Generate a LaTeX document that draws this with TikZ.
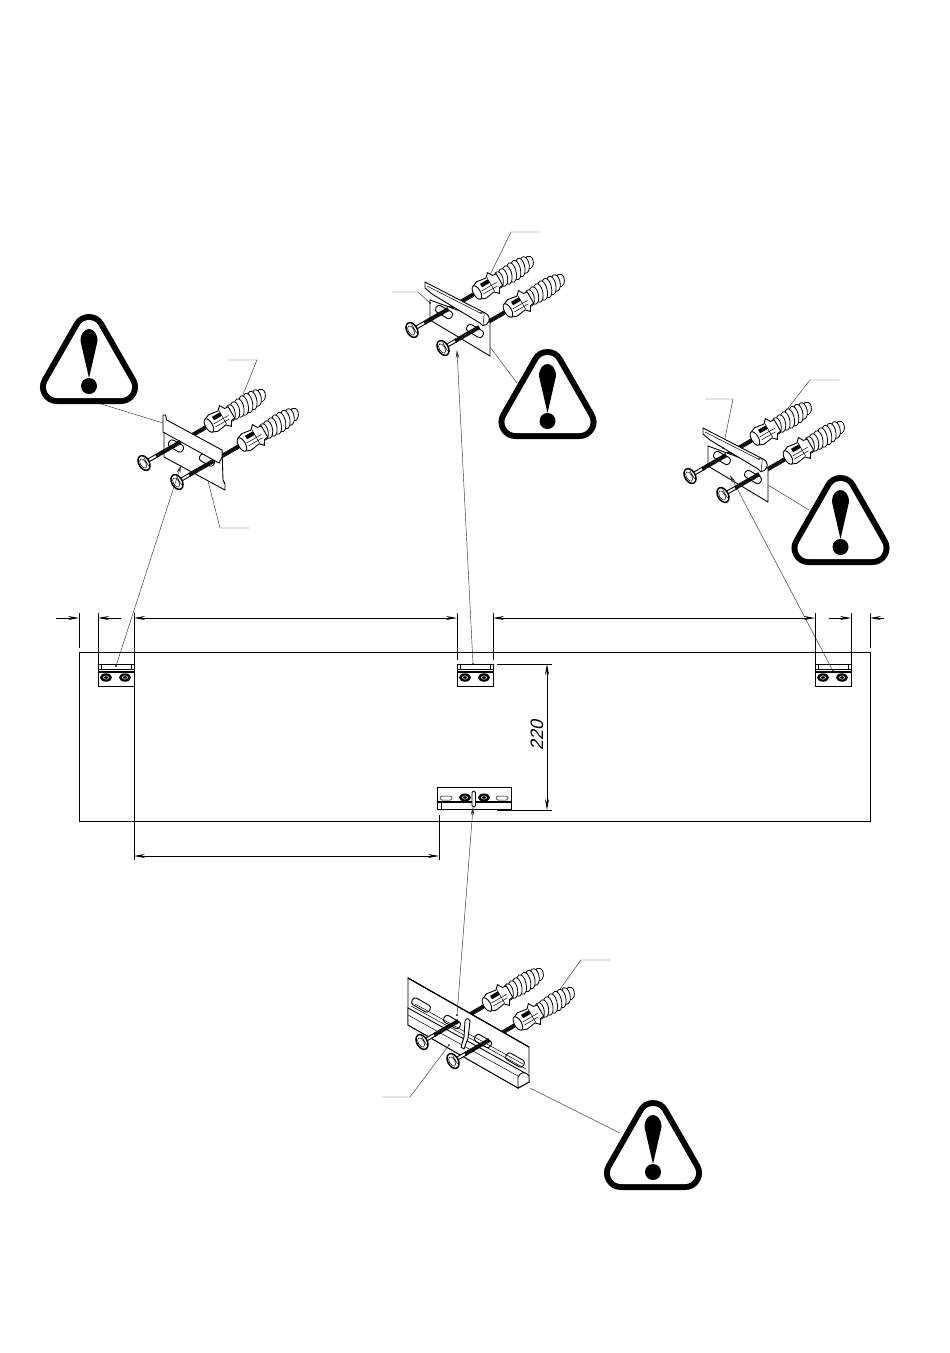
\documentclass[tikz,border=0pt]{standalone}
\usepackage{fontspec}
\setmainfont{Liberation Sans}
\newfontfamily\dimfont[FakeSlant=0.22]{Liberation Sans}
\usetikzlibrary{arrows.meta}

\begin{document}
\begin{tikzpicture}[x=1pt,y=-1pt,>={Stealth[length=11pt,width=4pt]},
        dim line/.style={line width=.8pt,black},
        ext line/.style={line width=.8pt,black},
        leader/.style={line width=.45pt,black!80},
        pointer/.style={leader,-{Stealth[length=8pt,width=3.5pt]}},
        part/.style={line width=.9pt,black,fill=white},
        thin part/.style={line width=.5pt,black},
        thread/.style={line width=4.2pt,black,dash pattern=on 1pt off .4pt},
        pics/warning/.style={code={
                \draw[black,fill=black,line width=34pt,line join=round] (-32,27) -- (32,27) -- (0,-29) -- cycle;
                \draw[white,fill=white,line width=22pt,line join=round] (-32,27) -- (32,27) -- (0,-29) -- cycle;
                \fill[black] (0,18) -- (-8.5,-19) .. controls (-8.5,-27) and (-4,-31) .. (0,-31) .. controls (4,-31) and (8.5,-27) .. (8.5,-19) -- cycle;
                \fill[black] (0,26) circle (8);
        }},
        pics/rearpart/.style={code={
                \draw[thread] (40,0) -- (76,0);
                \foreach \ribx/\ribr in {135/6,130/8,125/9,120/9.5,115/9.5,110/9,105/8.5,100/8}
                \draw[part,line width=.8pt,xslant=.25] (\ribx,0) ellipse [x radius=4.8,y radius=\ribr];
                \draw[part] (75,-7.5) -- (80,-9.5) -- (90,-8) -- (94,-12) -- (97,-7) -- (101,-6.5) -- (101,6.5) -- (97,7) -- (94,12) -- (90,8) -- (80,9.5) -- (75,7.5) -- cycle;
                \draw[part] (75,0) ellipse [x radius=3.5,y radius=7.5];
                \fill[black] (82,-6) rectangle (91,-2);
                \draw[thin part] (80,1) -- (97,1) (80,4.5) -- (96,4.5) (91,-8) -- (91,8);
        }},
        pics/frontpart/.style={code={
                \draw[part] (4,-1.5) rectangle (15,1.5);
                \draw[thread] (14,0) -- (42,0);
                \draw[part,line width=1.5pt] (0,0) ellipse [x radius=5.2,y radius=8];
                \draw[thin part] (-1,0) ellipse [x radius=2.8,y radius=5.2] (2.5,-5) -- (2.5,5);
        }},
        pics/slothole/.style={code={
                \draw[part,rounded corners=3pt] (-#1,-3.8) rectangle (#1,3.8);
        }},
        pics/flatplate/.style={code={
                \draw[part] (20,-31) -- (20,-6) -- (81,27) -- (81,21) -- (79,17) -- (78,-13) -- cycle;
                \pic[rotate=-30] at (32,-17) {slothole=8};
                \pic[rotate=-30] at (63,-3) {slothole=8};
                \draw[part] (19,-48) -- (21.5,-48) -- (22.7,-43) -- (78,-13) -- (78,-6) -- (75,0) -- (19,-31) -- cycle;
        }},
        pics/lipplate/.style={code={
                \draw[part] (18,-30) -- (18,-10) -- (78,26) -- (78,-8) -- cycle;
                \pic[rotate=-30] at (32,-18) {slothole=9};
                \pic[rotate=-30] at (63,1) {slothole=9};
                \draw[part] (13,-48) -- (73,-17) arc (-70:90:6.5) -- (68,-7) -- (20,-36) -- (13,-42) -- cycle;
                \draw[thin part] (15,-44) -- (70,-16);
                \draw[thin part] (68,-17) .. controls (71,-19) and (73,-17) .. (72,-14) -- (71,-5);
        }},
        pics/wallclip/.style={code={
                \draw[part,line width=.9pt] (0,0) rectangle (36,22);
                \draw[thin part] (0,5) -- (36,5) (3,0) -- (3,5) (33,0) -- (33,5);
                \draw[line width=2pt] (0,7.5) -- (36,7.5);
                \foreach \clipx in {8,27}{
                        \fill[black] (\clipx,13.5) ellipse [x radius=6,y radius=4.2];
                        \draw[white,line width=.5pt] (\clipx,13.5) ellipse [x radius=2.6,y radius=1.7];
                }
        }}]
        \useasboundingbox (0,0) rectangle (950,1353);
        \fill[white] (0,0) rectangle (950,1353);

        \draw[dim line,fill=white] (79,652) rectangle (870,821);

        \draw[leader] (98,403) -- (163,423);
        \draw[leader] (228,360) -- (257,360) -- (242,397);
        \draw[leader] (490,347) -- (517,383);
        \draw[leader] (539,232) -- (511,232) -- (490,275);
        \draw[leader] (392,292) -- (418,292) -- (430,303);
        \draw[leader] (705,399) -- (733,399) -- (723,448);
        \draw[leader] (839,380) -- (810,380) -- (785,412);
        \draw[leader] (768,485) -- (809,510);
        \draw[leader] (610,960) -- (581,960) -- (558,992);
        \draw[leader] (530,1088) -- (620,1133);
        \draw[leader] (207,477) -- (220,528) -- (249,528);
        \fill (207,477) circle (.9);

        \pic at (89,360) {warning};
        \pic at (547.5,395) {warning};
        \pic at (840.5,521) {warning};
        \pic at (653,1146) {warning};

        \foreach \hx/\hy in {144/463,177/482,412/330,443/348,690/476,723/495,422/1042,453/1061}
        \pic[rotate=30] at (\hx,\hy) {rearpart};

        \pic at (144,463) {flatplate};
        \pic at (412,330) {lipplate};
        \pic at (690,476) {lipplate};

        \draw[part] (408,978) -- (529,1047) -- (529,1082) -- (518,1088) -- (408,1025) -- cycle;
        \draw[line width=1.2pt] (408,978) -- (529,1047);
        \pic[rotate=-30] at (421,1005) {slothole=10};
        \pic[rotate=-30] at (515,1060) {slothole=10};
        \pic[rotate=-30] at (452,1022) {slothole=9};
        \pic[rotate=-30] at (483,1041) {slothole=9};
        \draw[part] (408,1008) -- (525,1073) -- (529,1082) -- (518,1088) -- (408,1025) -- cycle;
        \draw[thin part] (408,1015) -- (518,1076) (411,1006) -- (526,1069) (415,1004) -- (523,1064);
        \draw[part] (518,1088) -- (518,1077) .. controls (520,1072) and (526,1071) .. (529,1076) -- (529,1082) -- cycle;
        \draw[part] (465,1021) .. controls (466,1018) and (469,1018) .. (470,1021) -- (468,1038) -- (464,1049) -- (461,1047) -- (464,1037) -- cycle;

        \foreach \hx/\hy in {144/463,177/482,412/330,443/348,690/476,723/495,422/1042,453/1061}
        \pic[rotate=30] at (\hx,\hy) {frontpart};

        \draw[leader] (449,1045) -- (410,1097) -- (382,1097);
        \fill (449,1045) circle (.9);
        \fill (723,448) circle (.9) (430,303) circle (.9);

        \pic at (98,664) {wallclip};
        \pic at (457,664) {wallclip};
        \pic at (815,664) {wallclip};

        \draw[part,line width=.9pt] (437,787) rectangle (511,809);
        \foreach \slotx in {446,502}
        \draw[thin part,rounded corners=1.5pt] (\slotx-6,796) rectangle (\slotx+6,800);
        \draw[line width=2pt] (437,802) -- (511,802);
        \draw[thin part] (441,803) -- (441,809);
        \foreach \clipx in {465,484}{
                \fill[black] (\clipx,797.5) ellipse [x radius=6,y radius=4];
                \draw[white,line width=.5pt] (\clipx,797.5) ellipse [x radius=2.6,y radius=1.7];
        }
        \draw[part,rounded corners=1.5pt] (472,791) rectangle (475.5,807);

        \draw[pointer] (116,666) -- (181,465);
        \draw[pointer] (473,664) -- (457,350);
        \draw[pointer] (833,671) -- (730,475);
        \draw[pointer] (457,1015) -- (473,807);
        \fill (116,666) circle (1) (473,664) circle (1) (833,671) circle (1) (457,1015) circle (1);

        \draw[ext line] (79,613) -- (79,648);
        \draw[ext line] (98,613) -- (98,664);
        \draw[ext line] (134,613) -- (134,664) (134,686) -- (134,860);
        \draw[ext line] (457,613) -- (457,660);
        \draw[ext line] (493,613) -- (493,660);
        \draw[ext line] (815,613) -- (815,664);
        \draw[ext line] (851,613) -- (851,664);
        \draw[ext line] (870,613) -- (870,648);
        \draw[ext line] (439,815) -- (439,860);
        \draw[ext line] (497,664) -- (552,664);
        \draw[ext line] (497,810) -- (552,810);

        \draw[dim line,->] (56,618) -- (79,618);
        \draw[dim line,->] (121,618) -- (98,618);
        \draw[dim line,<->] (134,618) -- (457,618);
        \draw[dim line,<->] (493,618) -- (815,618);
        \draw[dim line,->] (829,618) -- (851,618);
        \draw[dim line,->] (884,618) -- (870,618);
        \draw[dim line,<->] (547,664) -- (547,810);
        \draw[dim line,<->] (134,856) -- (439,856);

        \node[rotate=90,inner sep=0pt,font=\dimfont\fontsize{18}{18}\selectfont] (gap) at (537,735) {220};
\end{tikzpicture}
\end{document}
